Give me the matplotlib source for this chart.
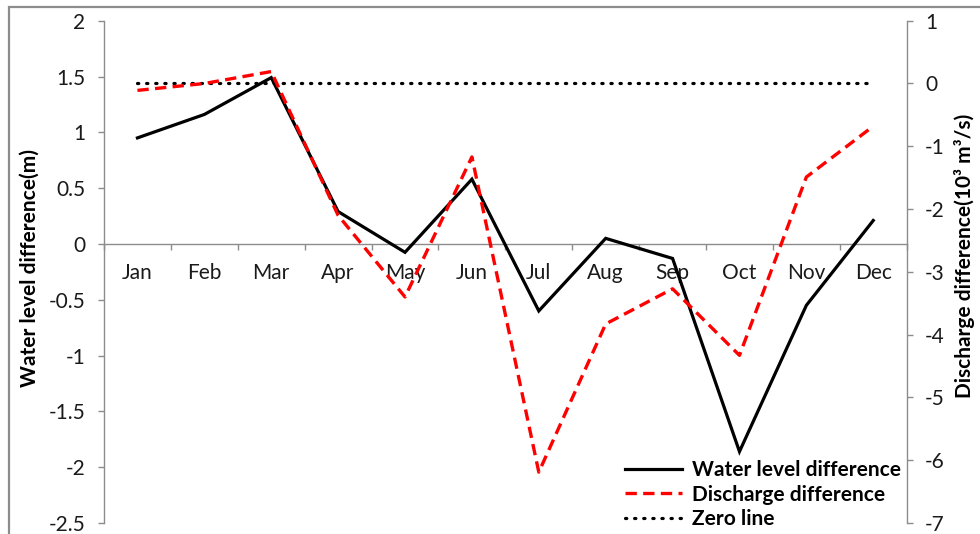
import matplotlib
matplotlib.use("Agg")
import matplotlib.pyplot as plt
from matplotlib.lines import Line2D
from matplotlib.patches import Rectangle

plt.rcParams['font.family'] = ['Lato', 'DejaVu Sans']

months = ["Jan", "Feb", "Mar", "Apr", "May", "Jun",
          "Jul", "Aug", "Sep", "Oct", "Nov", "Dec"]
water_level_diff = [0.95, 1.16, 1.49, 0.29, -0.075, 0.58,
                    -0.60, 0.05, -0.13, -1.86, -0.55, 0.21]
discharge_diff = [-0.11, 0.00, 0.19, -2.10, -3.40, -1.17,
                  -6.19, -3.83, -3.27, -4.33, -1.49, -0.68]
zero_line = [0.0] * 12

left_ticks = [-2.5, -2, -1.5, -1, -0.5, 0, 0.5, 1, 1.5, 2]
left_ticklabels = ["-2.5", "-2", "-1.5", "-1", "-0.5", "0", "0.5", "1", "1.5", "2"]
right_ticks = [-7, -6, -5, -4, -3, -2, -1, 0, 1]

W, H = 980, 534
fig = plt.figure(figsize=(W / 100, H / 100), dpi=100)
fig.patch.set_facecolor("white")

# chart-area border
fig.add_artist(Rectangle((9 / W, -0.05), 1.2, 1 - 7 / H + 0.05,
                         transform=fig.transFigure, fill=False,
                         edgecolor="#8c8c8c", linewidth=1.6))

x0, x1 = 104 / W, 906.7 / W
y_top, y_bot = 1 - 20.7 / H, 1 - 523 / H
ax = fig.add_axes([x0, y_bot, x1 - x0, y_top - y_bot])
ax2 = ax.twinx()

grey = "#8c8c8c"
red_dash = (0, (3.4, 1.9))
dots = (0, (0.4, 2.45))
xs = list(range(1, 13))

ax.plot(xs, water_level_diff, color="black", lw=2.3, solid_joinstyle="miter", zorder=3)
ax2.plot(xs, zero_line, color="black", lw=2.3, linestyle=dots,
         dash_capstyle="round", zorder=2)
ax2.plot(xs, discharge_diff, color="#ff0000", lw=2.4, linestyle=red_dash, zorder=3)

ax.set_xlim(0.5, 12.5)
ax.set_ylim(-2.5, 2)
ax2.set_ylim(-7, 1)

for a in (ax, ax2):
    a.spines["top"].set_visible(False)
    a.patch.set_visible(False)
ax2.spines["bottom"].set_visible(False)
ax2.spines["left"].set_visible(False)
ax.spines["right"].set_visible(False)
ax.spines["left"].set_color(grey)
ax2.spines["right"].set_color(grey)
ax.spines["bottom"].set_position(("data", 0))
ax.spines["bottom"].set_color(grey)
for s in ("left", "bottom"):
    ax.spines[s].set_linewidth(1.0)
ax2.spines["right"].set_linewidth(1.0)

tick_font = 15
ax.set_yticks(left_ticks)
ax.set_yticklabels(left_ticklabels)
ax.tick_params(axis="y", direction="out", length=4.3, width=1, color=grey,
               labelsize=tick_font, pad=9, labelcolor="#1a1a1a")
ax2.set_yticks(right_ticks)
ax2.set_yticklabels([str(t) for t in right_ticks])
ax2.tick_params(axis="y", direction="out", length=4.3, width=1, color=grey,
                labelsize=tick_font, pad=9, labelcolor="#1a1a1a")

ax.set_xticks(xs)
ax.set_xticklabels(months)
ax.set_xticks([i + 0.5 for i in range(0, 13)], minor=True)
ax.tick_params(axis="x", which="major", length=0, labelsize=tick_font, pad=13.5,
               labelcolor="#1a1a1a")
ax.tick_params(axis="x", which="minor", direction="out", length=4.3, width=1, color=grey)

fig.text(30 / W, 1 - 268 / H, "Water level difference(m)", rotation=90,
         ha="center", va="center", fontsize=15, fontweight="bold")
fig.text(964 / W, 1 - 256 / H, "Discharge difference(10³ m³/s)", rotation=90,
         ha="center", va="center", fontsize=15, fontweight="bold")

handles = [
    Line2D([], [], color="black", lw=2.3),
    Line2D([], [], color="#ff0000", lw=2.4, linestyle=red_dash),
    Line2D([], [], color="black", lw=2.3, linestyle=dots, dash_capstyle="round"),
]
labels = ["Water level difference", "Discharge difference", "Zero line"]
leg = fig.legend(handles, labels, loc="upper left",
                 bbox_to_anchor=(625 / W, 1 - 460 / H),
                 frameon=False, handlelength=2.75, handletextpad=0.48,
                 labelspacing=0.22, borderpad=0, borderaxespad=0,
                 prop={"size": 15, "weight": "bold"})

fig.savefig("out.png", dpi=100, facecolor="white")
